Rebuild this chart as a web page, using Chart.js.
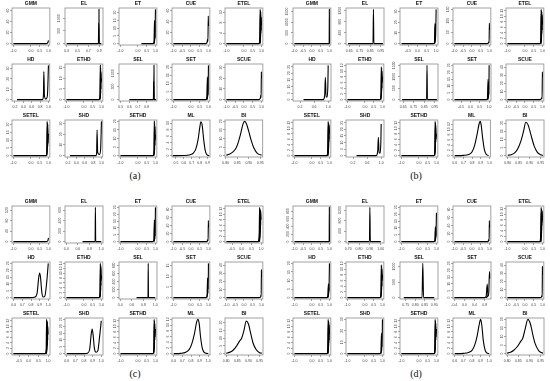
<!DOCTYPE html>
<html>
<head>
<meta charset="utf-8">
<script src="https://cdn.jsdelivr.net/npm/chart.js@4.4.0/dist/chart.umd.min.js"></script>
<style>
html, body { margin: 0; padding: 0; background: #fff; }
#fig { position: relative; width: 550px; height: 381px; overflow: hidden; }
.cell { position: absolute; width: 53px; height: 56px; }
.tag { position: absolute; font-family: 'Liberation Serif', serif; font-size: 10px; color: #111; transform: translateX(-50%); }
</style>
</head>
<body>
<div id="fig"></div>
<script>
const titles = ['GMM', 'EL', 'ET', 'CUE', 'ETEL', 'HD', 'ETHD', 'SEL', 'SET', 'SCUE', 'SETEL', 'SHD', 'SETHD', 'ML', 'BI'];

// ---- panel (a)
const xRangeA = [[-1.08, 1.08], [0.27, 0.97], [-1.08, 1.08], [-1.08, 1.08], [-1.08, 1.08],
  [0.13, 1.03], [-1.08, 1.08], [0.48, 0.92], [-1.08, 1.08], [-1.08, 1.08],
  [-1.08, 1.08], [0.13, 1.03], [-1.08, 1.08], [0.45, 0.93], [0.797, 0.96]];
const xTicksA = [['-1.0', '0.0', '0.5', '1.0'], ['0.3', '0.5', '0.7', '0.9'], ['-1.0', '0.0', '0.5', '1.0'], ['-1.0', '-0.5', '0.0', '0.5', '1.0'], ['-1.0', '0.0', '0.5', '1.0'],
  ['0.2', '0.4', '0.6', '0.8', '1.0'], ['-1.0', '0.0', '0.5', '1.0'], ['0.5', '0.6', '0.7', '0.8'], ['-1.0', '0.0', '0.5', '1.0'], ['-1.0', '-0.5', '0.0', '0.5', '1.0'],
  ['-1.0', '0.0', '0.5', '1.0'], ['0.2', '0.4', '0.6', '0.8', '1.0'], ['-1.0', '0.0', '0.5', '1.0'], ['0.5', '0.6', '0.7', '0.8', '0.9'], ['0.80', '0.85', '0.90', '0.95']];
const yTicksA = [['0', '20', '40', '60'], ['0', '500', '1000'], ['0', '5', '10', '15', '20'], ['0', '20', '40', '60'], ['0', '4', '8', '12'],
  ['0', '10', '20', '30'], ['0', '5', '10', '15'], ['0', '500', '1000'], ['0', '5', '10', '15', '20'], ['0', '10', '20', '30'],
  ['0', '5', '10', '15', '20'], ['0', '10', '20', '30'], ['0', '5', '10', '15', '20'], ['0', '2', '4', '6', '8', '10'], ['0', '5', '10', '15', '20']];
const yMaxA = [62, 1350, 22, 62, 13, 33, 16, 1300, 21, 32, 22, 32, 20, 10.5, 20];
const curvesA = [
  [[[-1, 0], [0.85, 0], [0.93, 0.5], [0.97, 2], [1, 6]]],
  [[[0.3, 0], [0.885, 0], [0.892, 800], [0.899, 0], [0.94, 0]], [[0.894, 0], [0.896, 1350], [0.898, 0]]],
  [[[0.2, 0], [0.88, 0], [0.92, 1], [0.945, 15], [0.96, 3]], [[0.9, 0], [0.94, 2], [0.96, 14], [0.975, 4]], [[0.92, 0], [0.96, 3], [0.985, 11], [1, 22]]],
  [[[-1, 0], [0.85, 0], [0.92, 2], [0.95, 8], [0.97, 4], [0.99, 50], [1, 32]]],
  [[[-1, 0], [0.85, 0], [0.9, 1], [0.925, 13], [0.94, 3]], [[0.88, 0], [0.92, 2], [0.945, 12.5], [0.96, 4]], [[0.9, 0], [0.94, 3], [0.965, 12], [0.98, 5]], [[0.92, 0], [0.96, 4], [0.985, 10], [1, 7]]],
  [[[0.25, 0], [0.86, 0], [0.88, 4], [0.89, 27], [0.905, 3], [0.94, 0.5], [0.975, 4], [1, 33]]],
  [[[-1, 0], [0.86, 0], [0.91, 1], [0.935, 16], [0.95, 3]], [[0.89, 0], [0.93, 2], [0.955, 15], [0.97, 5]], [[0.91, 0], [0.95, 3], [0.975, 13], [0.99, 8], [1, 10]]],
  [[[0.6, 0], [0.878, 0], [0.882, 700], [0.886, 0], [0.91, 0]], [[0.883, 0], [0.885, 1300], [0.887, 0]]],
  [[[-1, 0], [0.86, 0], [0.91, 1], [0.94, 14], [0.955, 2]], [[0.89, 0], [0.93, 2], [0.955, 13], [0.97, 3]], [[0.92, 0], [0.96, 3], [0.985, 8], [1, 21]]],
  [[[-1, 0], [0.85, 0], [0.93, 1], [0.96, 4], [0.98, 2], [0.995, 26], [1, 20]]],
  [[[-1, 0], [0.86, 0], [0.9, 1], [0.925, 22], [0.94, 5]], [[0.88, 0], [0.92, 4], [0.945, 21], [0.96, 6]], [[0.9, 0], [0.94, 5], [0.965, 20], [0.98, 8], [1, 14]]],
  [[[0.25, 0], [0.87, 0], [0.885, 3], [0.895, 24], [0.91, 3], [0.95, 1], [0.98, 6], [1, 32]]],
  [[[-1, 0], [0.86, 0], [0.91, 1], [0.935, 20], [0.95, 3]], [[0.89, 0], [0.93, 3], [0.955, 19], [0.97, 6]], [[0.91, 0], [0.95, 4], [0.975, 17], [0.99, 9], [1, 12]]],
  [[[0.46, 0], [0.6, 0.05], [0.68, 0.3], [0.72, 0.8], [0.75, 2], [0.78, 5], [0.8, 8.5], [0.815, 10.4], [0.83, 9.5], [0.85, 5], [0.87, 1.5], [0.89, 0.3], [0.92, 0]]],
  [[[0.803, 0.3], [0.815, 0.8], [0.83, 2], [0.845, 4.5], [0.855, 8], [0.865, 13], [0.875, 18.5], [0.882, 20], [0.89, 18.5], [0.9, 14], [0.91, 9], [0.92, 5], [0.93, 2.5], [0.94, 1], [0.955, 0.3]]]
];

// ---- panel (b)
const xRangeB = [[-1.08, 1.08], [0.62, 0.98], [-0.93, 1.1], [-1.08, 1.08], [-1.08, 1.08],
  [0, 1.08], [-1.08, 1.08], [0.62, 0.98], [-0.93, 1.1], [-1.08, 1.08],
  [-1.08, 1.08], [0, 1.08], [-1.08, 1.08], [0.58, 1.01], [0.792, 0.965]];
const xTicksB = [['-1.0', '-0.5', '0.0', '0.5', '1.0'], ['0.65', '0.75', '0.85', '0.95'], ['-0.5', '0.0', '0.5', '1.0'], ['-1.0', '-0.5', '0.0', '0.5', '1.0'], ['-1.0', '0.0', '0.5', '1.0'],
  ['0.2', '0.6', '1.0'], ['-1.0', '0.0', '0.5', '1.0'], ['0.65', '0.75', '0.85', '0.95'], ['-0.5', '0.0', '0.5', '1.0'], ['-1.0', '-0.5', '0.0', '0.5', '1.0'],
  ['-1.0', '0.0', '0.5', '1.0'], ['0.2', '0.6', '1.0'], ['-1.0', '0.0', '0.5', '1.0'], ['0.6', '0.7', '0.8', '0.9', '1.0'], ['0.80', '0.85', '0.90', '0.95']];
const yTicksB = [['0', '500', '1000', '1500'], ['0', '400', '800', '1200'], ['0', '10', '20', '30'], ['0', '50', '100', '150'], ['0', '2', '4', '6', '8', '10', '12'],
  ['0', '5', '10', '15', '20', '25'], ['0', '2', '4', '6', '8', '10', '12'], ['0', '500', '1000', '1500'], ['0', '5', '10', '15', '20', '25'], ['0', '10', '20', '30', '40'],
  ['0', '2', '4', '6', '8', '10', '12'], ['0', '5', '10', '15', '20', '25'], ['0', '2', '4', '6', '8', '10', '12'], ['0', '2', '4', '6', '8', '10', '12'], ['0', '5', '10', '15', '20']];
const yMaxB = [1600, 1250, 32, 150, 12.5, 26, 12, 1500, 25, 42, 12.5, 26, 12.5, 13, 21];
const curvesB = [
  [[[-1, 0], [0.985, 0], [0.993, 1600], [1, 0]]],
  [[[0.64, 0], [0.876, 0], [0.88, 1250], [0.884, 0], [0.97, 0]]],
  [[[-0.85, 0], [0.86, 0], [0.91, 1], [0.94, 19], [0.955, 3]], [[0.89, 0], [0.93, 2], [0.955, 18], [0.97, 5]], [[0.92, 0], [0.96, 4], [0.98, 12], [1, 32]]],
  [[[-1, 0], [0.85, 0], [0.93, 2], [0.96, 8], [0.98, 3], [0.995, 90], [1, 60]]],
  [[[-1, 0], [0.86, 0], [0.9, 1], [0.925, 12.5], [0.94, 3]], [[0.88, 0], [0.92, 2], [0.945, 12], [0.96, 4]], [[0.9, 0], [0.94, 3], [0.965, 11.5], [0.98, 5]], [[0.92, 0], [0.96, 4], [0.985, 10.5], [1, 7]]],
  [[[0.3, 0], [0.86, 0], [0.9, 3], [0.92, 17], [0.94, 2], [0.97, 2], [0.99, 10], [1, 26]]],
  [[[-1, 0], [0.86, 0], [0.91, 1], [0.935, 11.5], [0.95, 3]], [[0.89, 0], [0.93, 2], [0.955, 11], [0.97, 4]], [[0.91, 0], [0.95, 3], [0.975, 10], [0.99, 6], [1, 8]]],
  [[[0.64, 0], [0.872, 0], [0.876, 1500], [0.88, 0], [0.97, 0]]],
  [[[-0.85, 0], [0.86, 0], [0.91, 1], [0.945, 15], [0.96, 3]], [[0.9, 0], [0.94, 2], [0.965, 13], [0.98, 4]], [[0.93, 0], [0.97, 3], [0.99, 10], [1, 25]]],
  [[[-1, 0], [0.85, 0], [0.93, 1], [0.96, 2.5], [0.98, 1], [0.995, 34], [1, 28]]],
  [[[-1, 0], [0.86, 0], [0.9, 2], [0.925, 12.5], [0.94, 4]], [[0.88, 0], [0.92, 3], [0.945, 12], [0.96, 5]], [[0.9, 0], [0.94, 3], [0.965, 11.5], [0.98, 6]], [[0.92, 0], [0.96, 4], [0.985, 11], [1, 8]]],
  [[[0.3, 0], [0.86, 0], [0.9, 3], [0.92, 14], [0.94, 2], [0.97, 2], [0.99, 10], [1, 24]]],
  [[[-1, 0], [0.86, 0], [0.9, 1], [0.925, 12.5], [0.94, 3]], [[0.88, 0], [0.92, 2], [0.945, 12], [0.96, 5]], [[0.9, 0], [0.94, 3], [0.965, 11], [0.98, 6], [1, 8]]],
  [[[0.6, 0], [0.7, 0.1], [0.76, 0.4], [0.8, 1.5], [0.83, 4], [0.86, 8.5], [0.88, 12], [0.893, 13], [0.905, 11.5], [0.92, 7], [0.94, 2.5], [0.96, 0.6], [0.99, 0]]],
  [[[0.8, 0.2], [0.815, 0.6], [0.83, 1.5], [0.845, 4], [0.86, 9], [0.872, 15], [0.882, 20.5], [0.892, 19], [0.905, 13], [0.92, 6], [0.935, 2], [0.95, 0.5], [0.96, 0.1]]]
];

// ---- panel (c)
const xRangeC = [[-1.08, 1.08], [0.38, 1.03], [-1.08, 1.08], [-1.08, 1.08], [-0.87, 1.1],
  [0.58, 1.02], [-1.08, 1.08], [0.38, 1.03], [-1.08, 1.08], [-1.08, 1.08],
  [-0.87, 1.1], [0.58, 1.02], [-1.08, 1.08], [0.58, 1.02], [0.795, 0.965]];
const xTicksC = [['-1.0', '0.0', '0.5', '1.0'], ['0.4', '0.6', '0.8', '1.0'], ['-1.0', '0.0', '0.5', '1.0'], ['-1.0', '-0.5', '0.0', '0.5', '1.0'], ['-0.5', '0.0', '0.5', '1.0'],
  ['0.6', '0.7', '0.8', '0.9', '1.0'], ['-1.0', '0.0', '0.5', '1.0'], ['0.4', '0.6', '0.8', '1.0'], ['-1.0', '0.0', '0.5', '1.0'], ['-1.0', '-0.5', '0.0', '0.5', '1.0'],
  ['-0.5', '0.0', '0.5', '1.0'], ['0.6', '0.7', '0.8', '0.9', '1.0'], ['-1.0', '0.0', '0.5', '1.0'], ['0.6', '0.7', '0.8', '0.9', '1.0'], ['0.80', '0.85', '0.90', '0.95']];
const yTicksC = [['0', '40', '80', '120'], ['0', '200', '400', '600'], ['0', '5', '10', '15', '20', '25'], ['0', '20', '40', '60', '80'], ['0', '2', '4', '6', '8', '10', '12'],
  ['0', '5', '10', '15', '20', '25'], ['0', '2', '4', '6', '8', '10', '12', '14'], ['0', '200', '400', '600', '800'], ['0', '5', '10', '15'], ['0', '10', '20', '30', '40'],
  ['0', '2', '4', '6', '8', '10', '12'], ['0', '5', '10', '15', '20', '25'], ['0', '2', '4', '6', '8', '10', '12'], ['0', '2', '4', '6', '8', '10', '12'], ['0', '5', '10', '15', '20']];
const yMaxC = [130, 650, 25, 85, 12.5, 25, 14, 850, 16, 42, 12.5, 25, 12.5, 12, 22];
const curvesC = [
  [[[-1, 0], [0.85, 0], [0.93, 1], [0.97, 4], [1, 14]]],
  [[[0.68, 0], [0.895, 0], [0.9, 650], [0.905, 0], [1, 0]]],
  [[[-1, 0], [0.86, 0], [0.91, 1], [0.94, 16], [0.955, 2]], [[0.89, 0], [0.93, 2], [0.955, 15], [0.97, 4]], [[0.92, 0], [0.96, 3], [0.985, 10], [1, 25]]],
  [[[-1, 0], [0.85, 0], [0.93, 1], [0.96, 5], [0.98, 2], [0.995, 52], [1, 35]]],
  [[[-0.8, 0], [0.86, 0], [0.9, 2], [0.925, 12.5], [0.94, 4]], [[0.88, 0], [0.92, 3], [0.945, 12], [0.96, 5]], [[0.9, 0], [0.94, 3], [0.965, 11.5], [0.98, 6]], [[0.92, 0], [0.96, 4], [0.985, 11], [1, 8]]],
  [[[0.6, 0], [0.8, 0], [0.84, 0.3], [0.87, 3], [0.89, 15], [0.9, 18], [0.91, 15], [0.925, 4], [0.94, 0.5], [0.96, 1], [0.98, 10], [1, 25]]],
  [[[-1, 0], [0.86, 0], [0.91, 1], [0.935, 14], [0.95, 3]], [[0.89, 0], [0.93, 2], [0.955, 13.5], [0.97, 5]], [[0.91, 0], [0.95, 3], [0.975, 12.5], [0.99, 7], [1, 9]]],
  [[[0.68, 0], [0.876, 0], [0.88, 850], [0.884, 0], [1, 0]]],
  [[[-1, 0], [0.87, 0], [0.92, 1], [0.95, 9], [0.965, 2]], [[0.9, 0], [0.95, 2], [0.97, 9.5], [0.985, 4], [1, 16]]],
  [[[-1, 0], [0.85, 0], [0.95, 1], [0.97, 3], [0.985, 1.5], [0.997, 34], [1, 25]]],
  [[[-0.8, 0], [0.86, 0], [0.9, 1], [0.925, 12.5], [0.94, 3]], [[0.88, 0], [0.92, 2], [0.945, 12], [0.96, 4]], [[0.9, 0], [0.94, 3], [0.965, 11.5], [0.98, 5]], [[0.92, 0], [0.96, 4], [0.985, 10], [1, 7]]],
  [[[0.6, 0], [0.8, 0], [0.84, 0.3], [0.865, 3], [0.885, 15], [0.895, 18], [0.905, 14], [0.92, 4], [0.94, 1], [0.96, 2], [0.98, 12], [1, 24]]],
  [[[-1, 0], [0.86, 0], [0.9, 1], [0.925, 12.5], [0.94, 3]], [[0.88, 0], [0.92, 2], [0.945, 12], [0.96, 5]], [[0.9, 0], [0.94, 3], [0.965, 11], [0.98, 6], [1, 9]]],
  [[[0.6, 0], [0.68, 0.1], [0.74, 0.5], [0.78, 1.5], [0.81, 3.5], [0.84, 7], [0.865, 11], [0.88, 12], [0.895, 10.5], [0.91, 6], [0.93, 2], [0.95, 0.5], [0.98, 0.1], [1, 0]]],
  [[[0.8, 0.3], [0.815, 0.8], [0.83, 2], [0.845, 4.5], [0.86, 8], [0.87, 10], [0.88, 15], [0.89, 21], [0.9, 19], [0.91, 13], [0.92, 7], [0.935, 2.5], [0.95, 0.6], [0.96, 0.2]]]
];

// ---- panel (d)
const xRangeD = [[-1.08, 1.08], [0.68, 1.03], [-1.08, 1.08], [-1.08, 1.08], [-1.08, 1.08],
  [-1.08, 1.08], [-1.08, 1.08], [0.72, 0.92], [-0.45, 1.05], [-1.08, 1.08],
  [-1.08, 1.08], [-1.08, 1.08], [-1.08, 1.08], [0.58, 1.02], [0.795, 0.965]];
const xTicksD = [['-1.0', '-0.5', '0.0', '0.5', '1.0'], ['0.70', '0.80', '0.90', '1.00'], ['-1.0', '0.0', '0.5', '1.0'], ['-1.0', '-0.5', '0.0', '0.5', '1.0'], ['-1.0', '0.0', '0.5', '1.0'],
  ['-1.0', '0.0', '0.5', '1.0'], ['-1.0', '0.0', '0.5', '1.0'], ['0.75', '0.80', '0.85', '0.90'], ['-0.4', '0.0', '0.4', '0.8'], ['-1.0', '-0.5', '0.0', '0.5', '1.0'],
  ['-1.0', '0.0', '0.5', '1.0'], ['-1.0', '0.0', '0.5', '1.0'], ['-1.0', '0.0', '0.5', '1.0'], ['0.6', '0.7', '0.8', '0.9', '1.0'], ['0.80', '0.85', '0.90', '0.95']];
const yTicksD = [['0', '200', '400', '600', '800'], ['0', '400', '800', '1200'], ['0', '5', '10', '15', '20', '25'], ['0', '20', '40', '60', '80'], ['0', '2', '4', '6', '8', '10', '12'],
  ['0', '5', '10', '15', '20'], ['0', '2', '4', '6', '8', '10', '12'], ['0', '500', '1000'], ['0', '5', '10', '15', '20', '25'], ['0', '10', '20', '30', '40'],
  ['0', '2', '4', '6', '8', '10', '12'], ['0', '10', '20', '30'], ['0', '2', '4', '6', '8', '10', '12'], ['0', '2', '4', '6', '8', '10', '12'], ['0', '5', '10', '15', '20']];
const yMaxD = [900, 1300, 25, 85, 12.5, 20, 12, 1100, 25, 42, 12.5, 30, 12.5, 12.5, 20];
const curvesD = [
  [[[-1, 0], [0.985, 0], [0.993, 900], [1, 0]]],
  [[[0.7, 0], [0.896, 0], [0.9, 1300], [0.904, 0], [1, 0]]],
  [[[-1, 0], [0.86, 0], [0.91, 1], [0.94, 11], [0.955, 3]], [[0.89, 0], [0.93, 2], [0.955, 10], [0.97, 4]], [[0.92, 0], [0.96, 3], [0.98, 8], [1, 21]]],
  [[[-1, 0], [0.85, 0], [0.93, 1], [0.96, 5], [0.98, 2], [0.995, 52], [1, 35]]],
  [[[-1, 0], [0.86, 0], [0.9, 3], [0.925, 12.5], [0.94, 5]], [[0.88, 0], [0.92, 4], [0.945, 12], [0.96, 6]], [[0.9, 0], [0.94, 4], [0.965, 11.5], [0.98, 7]], [[0.92, 0], [0.96, 5], [0.985, 11], [1, 8]]],
  [[[-1, 0], [0.86, 0], [0.91, 1], [0.94, 8], [0.955, 3]], [[0.89, 0], [0.93, 2], [0.955, 8], [0.97, 4]], [[0.92, 0], [0.96, 3], [0.98, 7], [1, 20]]],
  [[[-1, 0], [0.86, 0], [0.91, 1], [0.935, 11.5], [0.95, 3]], [[0.89, 0], [0.93, 2], [0.955, 11], [0.97, 4]], [[0.91, 0], [0.95, 3], [0.975, 10], [0.99, 6], [1, 8]]],
  [[[0.74, 0], [0.836, 0], [0.84, 1100], [0.844, 0], [0.9, 0]]],
  [[[-0.4, 0], [0.8, 0], [0.86, 1], [0.9, 10], [0.93, 1]], [[0.85, 0], [0.92, 1], [0.96, 3], [0.99, 19], [1, 14]]],
  [[[-1, 0], [0.85, 0], [0.95, 1], [0.97, 2.5], [0.985, 1], [0.997, 38], [1, 28]]],
  [[[-1, 0], [0.86, 0], [0.9, 1], [0.925, 12.5], [0.94, 3]], [[0.88, 0], [0.92, 2], [0.945, 12], [0.96, 4]], [[0.9, 0], [0.94, 3], [0.965, 11.5], [0.98, 5]], [[0.92, 0], [0.96, 4], [0.985, 10.5], [1, 7]]],
  [[[-1, 0], [0.86, 0], [0.91, 1], [0.945, 18], [0.96, 3]], [[0.9, 0], [0.94, 2], [0.965, 14], [0.98, 6], [1, 30]]],
  [[[-1, 0], [0.86, 0], [0.9, 1], [0.925, 12.5], [0.94, 3]], [[0.88, 0], [0.92, 2], [0.945, 12], [0.96, 5]], [[0.9, 0], [0.94, 3], [0.965, 11], [0.98, 6], [1, 9]]],
  [[[0.6, 0], [0.7, 0.1], [0.76, 0.4], [0.8, 1.2], [0.83, 3], [0.86, 6.5], [0.88, 10], [0.9, 12.5], [0.915, 10], [0.93, 5], [0.95, 1.5], [0.97, 0.3], [1, 0]]],
  [[[0.8, 0.3], [0.815, 0.8], [0.83, 2], [0.845, 4], [0.86, 7], [0.87, 9], [0.88, 14], [0.893, 20], [0.905, 17], [0.915, 11], [0.925, 6], [0.94, 2], [0.95, 0.8], [0.96, 0.3]]]
];

const panels = [
  { tag: '(a)', left: 0, top: 0, xRange: xRangeA, xTicks: xTicksA, yTicks: yTicksA, yMax: yMaxA, curves: curvesA },
  { tag: '(b)', left: 281, top: 0, xRange: xRangeB, xTicks: xTicksB, yTicks: yTicksB, yMax: yMaxB, curves: curvesB },
  { tag: '(c)', left: 0, top: 198, xRange: xRangeC, xTicks: xTicksC, yTicks: yTicksC, yMax: yMaxC, curves: curvesC },
  { tag: '(d)', left: 281, top: 198, xRange: xRangeD, xTicks: xTicksD, yTicks: yTicksD, yMax: yMaxD, curves: curvesD }
];

const fam = "'Liberation Sans', Arial, sans-serif";

// R-style frame round the plot region
const frame = {
  id: 'frame',
  beforeDatasetsDraw(chart) {
    const { ctx, chartArea: a } = chart;
    ctx.save();
    ctx.strokeStyle = '#8a8a8a';
    ctx.lineWidth = 0.8;
    ctx.strokeRect(a.left, a.top, a.right - a.left, a.bottom - a.top);
    ctx.restore();
  }
};

function tickText(list, v) {
  const t = list.find(s => Math.abs(parseFloat(s) - v) < 1e-9);
  return t === undefined ? '' : t;
}

function drawPlot(host, p, i) {
  const canvas = document.createElement('canvas');
  canvas.width = 53;
  canvas.height = 56;
  host.appendChild(canvas);
  const xt = p.xTicks[i], yt = p.yTicks[i], top = p.yMax[i];

  new Chart(canvas, {
    type: 'line',
    data: {
      datasets: p.curves[i].map(pts => ({
        data: pts.map(([x, y]) => ({ x, y })),
        borderColor: '#000',
        borderWidth: 1.1,
        pointRadius: 0,
        fill: false,
        cubicInterpolationMode: 'monotone'
      }))
    },
    options: {
      responsive: false,
      animation: false,
      events: [],
      layout: { padding: { right: 3 } },
      plugins: {
        legend: { display: false },
        tooltip: { enabled: false },
        title: {
          display: true, text: titles[i], fullSize: false, color: '#111',
          font: { family: fam, size: 5, weight: 'bold', lineHeight: 1.2 },
          padding: { top: 1, bottom: 1 }
        }
      },
      scales: {
        x: {
          type: 'linear',
          min: p.xRange[i][0],
          max: p.xRange[i][1],
          afterBuildTicks: s => { s.ticks = xt.map(t => ({ value: parseFloat(t) })); },
          afterFit: s => { s.height = 11; },
          border: { display: false },
          grid: { drawOnChartArea: false, tickLength: 2, color: '#666', lineWidth: 0.6 },
          ticks: { autoSkip: false, maxRotation: 0, padding: 2, color: '#444', font: { family: fam, size: 3.5 }, callback: v => tickText(xt, v) }
        },
        y: {
          type: 'linear',
          min: -0.04 * top,
          max: 1.04 * top,
          afterBuildTicks: s => { s.ticks = yt.map(t => ({ value: parseFloat(t) })); },
          afterFit: s => { s.width = 12; },
          border: { display: false },
          grid: { drawOnChartArea: false, tickLength: 2, color: '#666', lineWidth: 0.6 },
          ticks: { autoSkip: false, minRotation: 90, maxRotation: 90, crossAlign: 'center', padding: 0, color: '#444', font: { family: fam, size: 3.5 }, callback: v => tickText(yt, v) }
        }
      }
    },
    plugins: [frame]
  });
}

const fig = document.getElementById('fig');
panels.forEach(p => {
  titles.forEach((t, i) => {
    const cell = document.createElement('div');
    cell.className = 'cell';
    cell.style.left = (p.left + (i % 5) * 53.3) + 'px';
    cell.style.top = (p.top + Math.floor(i / 5) * 56) + 'px';
    fig.appendChild(cell);
    drawPlot(cell, p, i);
  });
  const tag = document.createElement('div');
  tag.className = 'tag';
  tag.textContent = p.tag;
  tag.style.left = (p.left + 135) + 'px';
  tag.style.top = (p.top + 170) + 'px';
  fig.appendChild(tag);
});
</script>
</body>
</html>
